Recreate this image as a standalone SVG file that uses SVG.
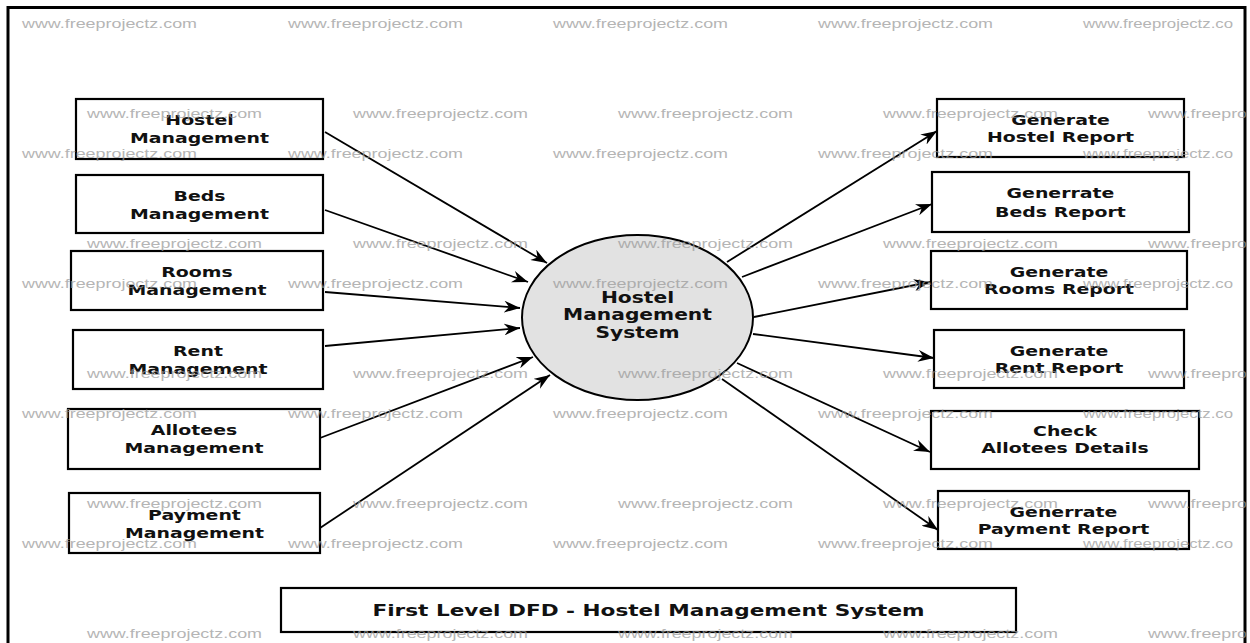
<svg xmlns="http://www.w3.org/2000/svg" width="1250" height="643" viewBox="0 0 1250 643">
<style>
.box{fill:#fff;stroke:#000;stroke-width:2.2}
.lbl{font-family:"DejaVu Sans",sans-serif;font-weight:bold;font-size:14px;fill:#111;text-anchor:middle}
.big{font-size:15px}
.ttl{font-size:16px}
.flow{stroke:#000;stroke-width:1.8;fill:none;marker-end:url(#ah)}
.wm{font-family:"Liberation Sans",Arial,sans-serif;font-size:13.5px;fill:#999;opacity:0.72}
</style>
<defs>
<marker id="ah" markerUnits="userSpaceOnUse" markerWidth="17" markerHeight="12" refX="16" refY="6" orient="auto">
<path d="M0,0 L16,6 L0,12 L5,6 Z" fill="#000"/>
</marker>
</defs>
<rect x="0" y="0" width="1250" height="643" fill="#fff"/>
<rect x="8" y="7.5" width="1237" height="650" fill="none" stroke="#000" stroke-width="3"/>

<g id="connectors">
<line class="flow" x1="325" y1="132" x2="547" y2="263"/>
<line class="flow" x1="325" y1="210" x2="528" y2="282"/>
<line class="flow" x1="325" y1="292" x2="520" y2="308"/>
<line class="flow" x1="325" y1="346" x2="520" y2="328"/>
<line class="flow" x1="320" y1="438" x2="533" y2="357"/>
<line class="flow" x1="320" y1="528" x2="550" y2="375"/>
<line class="flow" x1="727" y1="262" x2="937" y2="131"/>
<line class="flow" x1="742" y1="277" x2="932" y2="204"/>
<line class="flow" x1="754" y1="317" x2="930" y2="282"/>
<line class="flow" x1="753" y1="334" x2="934" y2="358"/>
<line class="flow" x1="737" y1="363" x2="930" y2="452"/>
<line class="flow" x1="722" y1="379" x2="938" y2="530"/>
</g>

<g id="hms">
<ellipse cx="637.5" cy="317.5" rx="115.5" ry="82.5" fill="#e2e2e2" stroke="#000" stroke-width="2"/>
<text class="lbl big" transform="matrix(1.35 0 0 1 637.5 0)" x="0" y="303">Hostel</text>
<text class="lbl big" transform="matrix(1.35 0 0 1 637.5 0)" x="0" y="320.5">Management</text>
<text class="lbl big" transform="matrix(1.35 0 0 1 637.5 0)" x="0" y="338">System</text>
</g>

<g id="hostel_mgmt">
<rect class="box" x="76" y="99" width="247" height="60"/>
<text class="lbl" transform="matrix(1.35 0 0 1 199.5 0)" x="0" y="125">Hostel</text>
<text class="lbl" transform="matrix(1.35 0 0 1 199.5 0)" x="0" y="143.5">Management</text>
</g>
<g id="beds_mgmt">
<rect class="box" x="76" y="175" width="247" height="58"/>
<text class="lbl" transform="matrix(1.35 0 0 1 199.5 0)" x="0" y="201">Beds</text>
<text class="lbl" transform="matrix(1.35 0 0 1 199.5 0)" x="0" y="219">Management</text>
</g>
<g id="rooms_mgmt">
<rect class="box" x="71" y="251" width="252" height="59"/>
<text class="lbl" transform="matrix(1.35 0 0 1 197 0)" x="0" y="277">Rooms</text>
<text class="lbl" transform="matrix(1.35 0 0 1 197 0)" x="0" y="295">Management</text>
</g>
<g id="rent_mgmt">
<rect class="box" x="73" y="330" width="250" height="59"/>
<text class="lbl" transform="matrix(1.35 0 0 1 198 0)" x="0" y="356">Rent</text>
<text class="lbl" transform="matrix(1.35 0 0 1 198 0)" x="0" y="374">Management</text>
</g>
<g id="allotees_mgmt">
<rect class="box" x="68" y="409" width="252" height="60"/>
<text class="lbl" transform="matrix(1.35 0 0 1 194 0)" x="0" y="435">Allotees</text>
<text class="lbl" transform="matrix(1.35 0 0 1 194 0)" x="0" y="453">Management</text>
</g>
<g id="payment_mgmt">
<rect class="box" x="69" y="493" width="251" height="60"/>
<text class="lbl" transform="matrix(1.35 0 0 1 194.5 0)" x="0" y="520">Payment</text>
<text class="lbl" transform="matrix(1.35 0 0 1 194.5 0)" x="0" y="538">Management</text>
</g>

<g id="hostel_report">
<rect class="box" x="937" y="99" width="247" height="58"/>
<text class="lbl" transform="matrix(1.35 0 0 1 1060.5 0)" x="0" y="125">Generate</text>
<text class="lbl" transform="matrix(1.35 0 0 1 1060.5 0)" x="0" y="142.5">Hostel Report</text>
</g>
<g id="beds_report">
<rect class="box" x="932" y="172" width="257" height="60"/>
<text class="lbl" transform="matrix(1.35 0 0 1 1060.5 0)" x="0" y="198.5">Generrate</text>
<text class="lbl" transform="matrix(1.35 0 0 1 1060.5 0)" x="0" y="217">Beds Report</text>
</g>
<g id="rooms_report">
<rect class="box" x="931" y="251" width="256" height="58"/>
<text class="lbl" transform="matrix(1.35 0 0 1 1059 0)" x="0" y="277">Generate</text>
<text class="lbl" transform="matrix(1.35 0 0 1 1059 0)" x="0" y="294.5">Rooms Report</text>
</g>
<g id="rent_report">
<rect class="box" x="934" y="330" width="250" height="58"/>
<text class="lbl" transform="matrix(1.35 0 0 1 1059 0)" x="0" y="356">Generate</text>
<text class="lbl" transform="matrix(1.35 0 0 1 1059 0)" x="0" y="373.5">Rent Report</text>
</g>
<g id="allotees_details">
<rect class="box" x="931" y="411" width="268" height="58"/>
<text class="lbl" transform="matrix(1.35 0 0 1 1065 0)" x="0" y="436">Check</text>
<text class="lbl" transform="matrix(1.35 0 0 1 1065 0)" x="0" y="453.5">Allotees Details</text>
</g>
<g id="payment_report">
<rect class="box" x="938" y="491" width="251" height="58"/>
<text class="lbl" transform="matrix(1.35 0 0 1 1063.5 0)" x="0" y="517">Generrate</text>
<text class="lbl" transform="matrix(1.35 0 0 1 1063.5 0)" x="0" y="534.5">Payment Report</text>
</g>

<g id="title">
<rect class="box" x="281" y="588" width="735" height="44"/>
<text class="lbl ttl" transform="matrix(1.35 0 0 1 648.5 0)" x="0" y="616">First Level DFD - Hostel Management System</text>
</g>

<g id="watermarks">
<text class="wm" x="22" y="28" textLength="175" lengthAdjust="spacingAndGlyphs">www.freeprojectz.com</text>
<text class="wm" x="288" y="28" textLength="175" lengthAdjust="spacingAndGlyphs">www.freeprojectz.com</text>
<text class="wm" x="553" y="28" textLength="175" lengthAdjust="spacingAndGlyphs">www.freeprojectz.com</text>
<text class="wm" x="818" y="28" textLength="175" lengthAdjust="spacingAndGlyphs">www.freeprojectz.com</text>
<text class="wm" x="1083" y="28" textLength="150" lengthAdjust="spacingAndGlyphs">www.freeprojectz.co</text>
<text class="wm" x="87" y="118" textLength="175" lengthAdjust="spacingAndGlyphs">www.freeprojectz.com</text>
<text class="wm" x="353" y="118" textLength="175" lengthAdjust="spacingAndGlyphs">www.freeprojectz.com</text>
<text class="wm" x="618" y="118" textLength="175" lengthAdjust="spacingAndGlyphs">www.freeprojectz.com</text>
<text class="wm" x="883" y="118" textLength="175" lengthAdjust="spacingAndGlyphs">www.freeprojectz.com</text>
<text class="wm" x="1148" y="118" textLength="99" lengthAdjust="spacingAndGlyphs">www.freepro</text>
<text class="wm" x="22" y="158" textLength="175" lengthAdjust="spacingAndGlyphs">www.freeprojectz.com</text>
<text class="wm" x="288" y="158" textLength="175" lengthAdjust="spacingAndGlyphs">www.freeprojectz.com</text>
<text class="wm" x="553" y="158" textLength="175" lengthAdjust="spacingAndGlyphs">www.freeprojectz.com</text>
<text class="wm" x="818" y="158" textLength="175" lengthAdjust="spacingAndGlyphs">www.freeprojectz.com</text>
<text class="wm" x="1083" y="158" textLength="150" lengthAdjust="spacingAndGlyphs">www.freeprojectz.co</text>
<text class="wm" x="87" y="248" textLength="175" lengthAdjust="spacingAndGlyphs">www.freeprojectz.com</text>
<text class="wm" x="353" y="248" textLength="175" lengthAdjust="spacingAndGlyphs">www.freeprojectz.com</text>
<text class="wm" x="618" y="248" textLength="175" lengthAdjust="spacingAndGlyphs">www.freeprojectz.com</text>
<text class="wm" x="883" y="248" textLength="175" lengthAdjust="spacingAndGlyphs">www.freeprojectz.com</text>
<text class="wm" x="1148" y="248" textLength="99" lengthAdjust="spacingAndGlyphs">www.freepro</text>
<text class="wm" x="22" y="288" textLength="175" lengthAdjust="spacingAndGlyphs">www.freeprojectz.com</text>
<text class="wm" x="288" y="288" textLength="175" lengthAdjust="spacingAndGlyphs">www.freeprojectz.com</text>
<text class="wm" x="553" y="288" textLength="175" lengthAdjust="spacingAndGlyphs">www.freeprojectz.com</text>
<text class="wm" x="818" y="288" textLength="175" lengthAdjust="spacingAndGlyphs">www.freeprojectz.com</text>
<text class="wm" x="1083" y="288" textLength="150" lengthAdjust="spacingAndGlyphs">www.freeprojectz.co</text>
<text class="wm" x="87" y="378" textLength="175" lengthAdjust="spacingAndGlyphs">www.freeprojectz.com</text>
<text class="wm" x="353" y="378" textLength="175" lengthAdjust="spacingAndGlyphs">www.freeprojectz.com</text>
<text class="wm" x="618" y="378" textLength="175" lengthAdjust="spacingAndGlyphs">www.freeprojectz.com</text>
<text class="wm" x="883" y="378" textLength="175" lengthAdjust="spacingAndGlyphs">www.freeprojectz.com</text>
<text class="wm" x="1148" y="378" textLength="99" lengthAdjust="spacingAndGlyphs">www.freepro</text>
<text class="wm" x="22" y="418" textLength="175" lengthAdjust="spacingAndGlyphs">www.freeprojectz.com</text>
<text class="wm" x="288" y="418" textLength="175" lengthAdjust="spacingAndGlyphs">www.freeprojectz.com</text>
<text class="wm" x="553" y="418" textLength="175" lengthAdjust="spacingAndGlyphs">www.freeprojectz.com</text>
<text class="wm" x="818" y="418" textLength="175" lengthAdjust="spacingAndGlyphs">www.freeprojectz.com</text>
<text class="wm" x="1083" y="418" textLength="150" lengthAdjust="spacingAndGlyphs">www.freeprojectz.co</text>
<text class="wm" x="87" y="508" textLength="175" lengthAdjust="spacingAndGlyphs">www.freeprojectz.com</text>
<text class="wm" x="353" y="508" textLength="175" lengthAdjust="spacingAndGlyphs">www.freeprojectz.com</text>
<text class="wm" x="618" y="508" textLength="175" lengthAdjust="spacingAndGlyphs">www.freeprojectz.com</text>
<text class="wm" x="883" y="508" textLength="175" lengthAdjust="spacingAndGlyphs">www.freeprojectz.com</text>
<text class="wm" x="1148" y="508" textLength="99" lengthAdjust="spacingAndGlyphs">www.freepro</text>
<text class="wm" x="22" y="548" textLength="175" lengthAdjust="spacingAndGlyphs">www.freeprojectz.com</text>
<text class="wm" x="288" y="548" textLength="175" lengthAdjust="spacingAndGlyphs">www.freeprojectz.com</text>
<text class="wm" x="553" y="548" textLength="175" lengthAdjust="spacingAndGlyphs">www.freeprojectz.com</text>
<text class="wm" x="818" y="548" textLength="175" lengthAdjust="spacingAndGlyphs">www.freeprojectz.com</text>
<text class="wm" x="1083" y="548" textLength="150" lengthAdjust="spacingAndGlyphs">www.freeprojectz.co</text>
<text class="wm" x="87" y="638" textLength="175" lengthAdjust="spacingAndGlyphs">www.freeprojectz.com</text>
<text class="wm" x="353" y="638" textLength="175" lengthAdjust="spacingAndGlyphs">www.freeprojectz.com</text>
<text class="wm" x="618" y="638" textLength="175" lengthAdjust="spacingAndGlyphs">www.freeprojectz.com</text>
<text class="wm" x="883" y="638" textLength="175" lengthAdjust="spacingAndGlyphs">www.freeprojectz.com</text>
<text class="wm" x="1148" y="638" textLength="99" lengthAdjust="spacingAndGlyphs">www.freepro</text>
</g>
</svg>
